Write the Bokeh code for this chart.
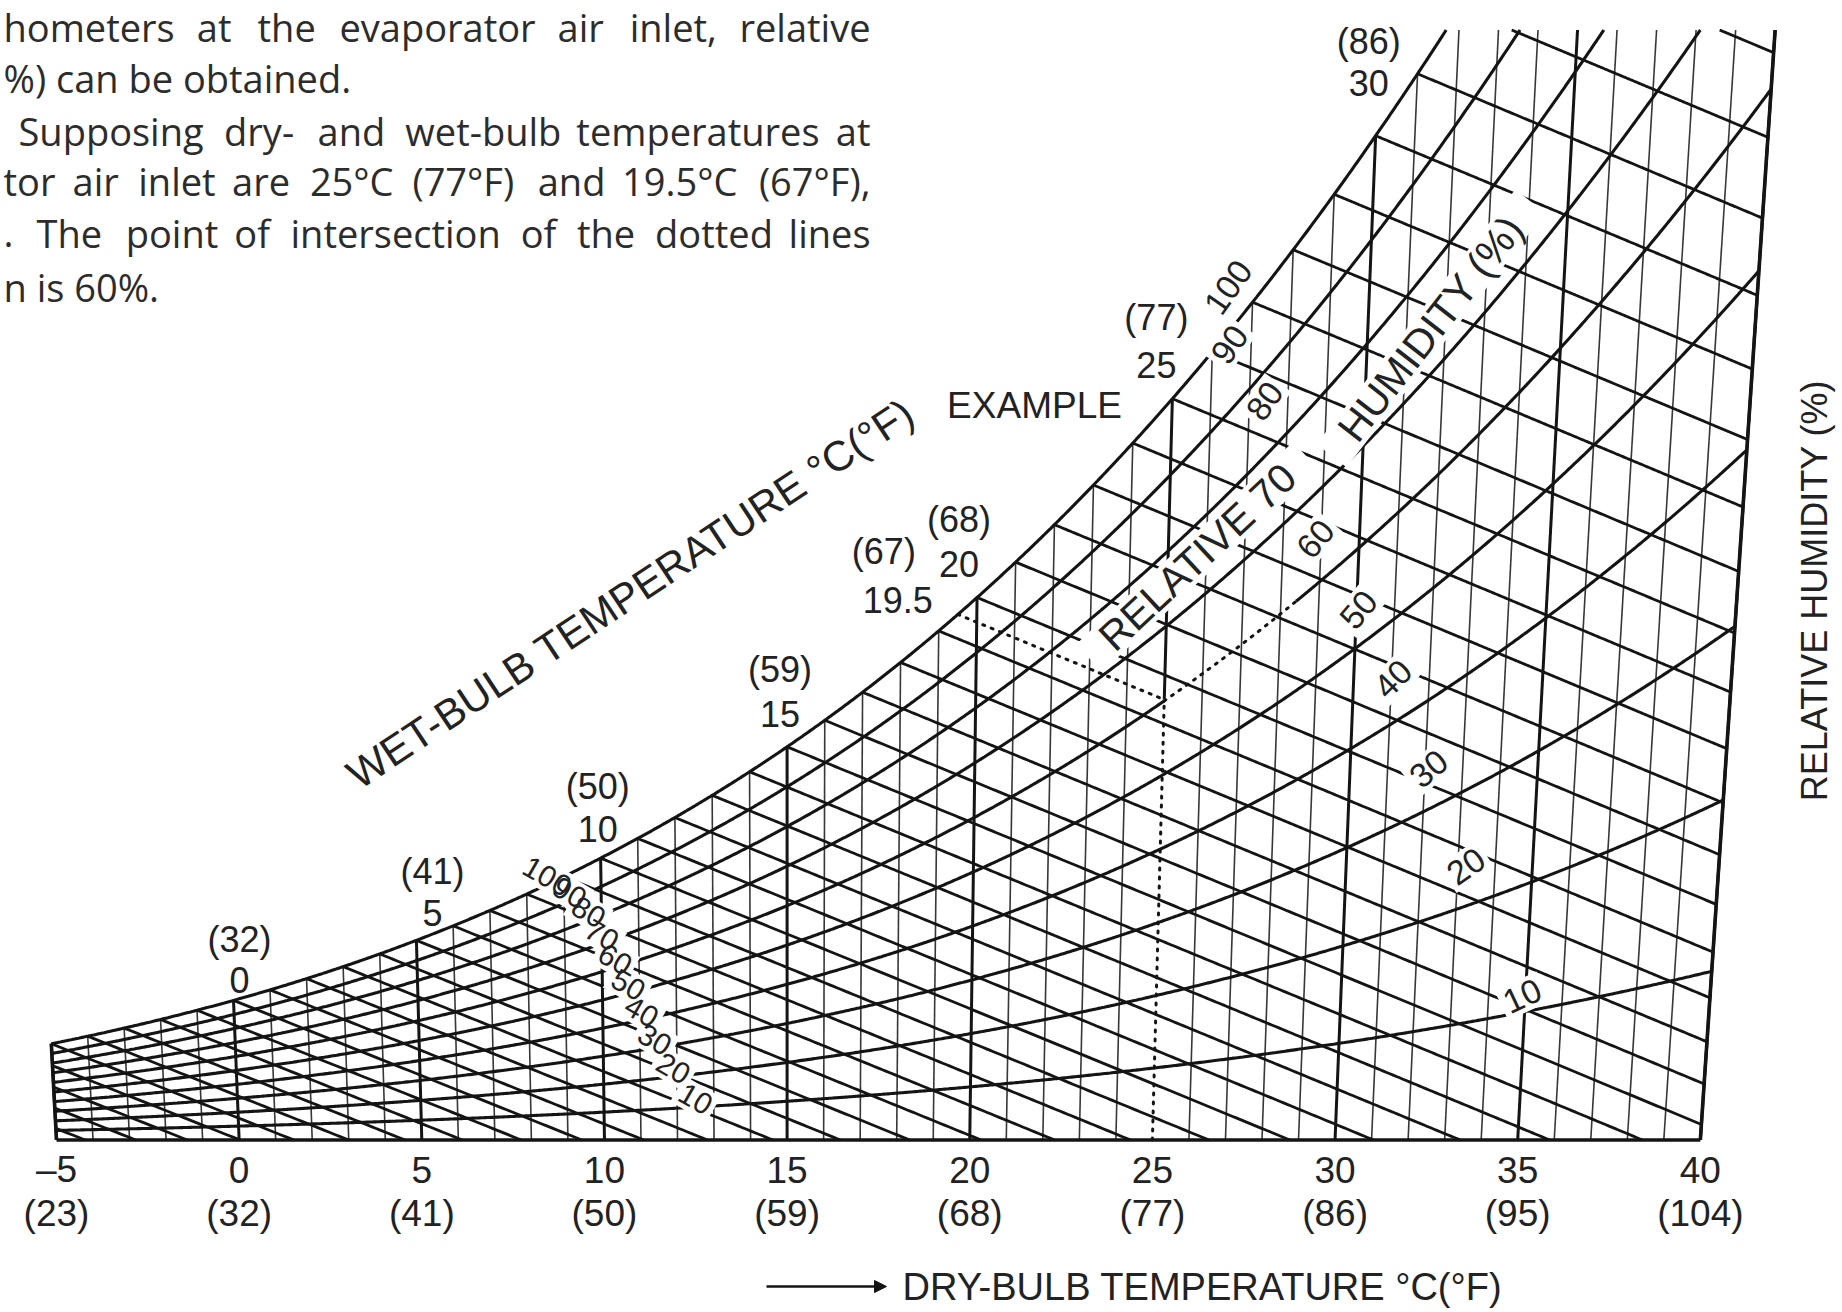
import numpy as np
from bokeh.plotting import figure
from bokeh.models import Range1d, Label, Arrow, NormalHead
from bokeh.core.properties import value
from bokeh.embed import file_html
from bokeh.resources import INLINE

# ---------------- data ----------------
dry_bulb_c = [-5, 0, 5, 10, 15, 20, 25, 30, 35, 40]
dry_bulb_tick_text = ["\u20135", "0", "5", "10", "15", "20", "25", "30", "35", "40"]
dry_bulb_f = ["(23)", "(32)", "(41)", "(50)", "(59)", "(68)", "(77)", "(86)", "(95)", "(104)"]
grid_dry_bulb = list(range(-5, 41))          # a dry-bulb line every 1 degC
grid_wet_bulb = list(range(-9, 35))          # a wet-bulb line every 1 degC
rh_curves = [10, 20, 30, 40, 50, 60, 70, 80, 90, 100]
rh_text = ["10", "20", "30", "40", "50", "60", "70", "80", "90", "100"]
wb_label_c = [0, 5, 10, 15, 20, 25, 30]
wb_label_text = ["0", "5", "10", "15", "20", "25", "30"]
wb_label_f = ["(32)", "(41)", "(50)", "(59)", "(68)", "(77)", "(86)"]
example_db = 25.0
example_wb = 19.5
example_wb_text = ["19.5", "(67)"]
example_rh = 60
w_top = 30.0          # g/kg, top edge of the chart
pressure = 101.325    # kPa

# ---------------- layout (positions / styles) ----------------
W_FIG, H_FIG = 1842, 1312
PXX, PXY = 36.53, 37.0
X0 = -5 - 56 / PXX
X1 = X0 + W_FIG / PXX
Y1 = 1139.5 / PXY
Y0 = Y1 - H_FIG / PXY
SKEW = 0.00273
INK = "#141414"
TXT = "#222222"
FONT = "Liberation Sans"


def page_to_data(px, py):
    return X0 + px / PXX, Y1 - py / PXY


def p_sat(t):
    return 0.61094 * np.exp(17.625 * t / (t + 243.04))


def w_rh(phi, t):
    pv = p_sat(t) * phi / 100.0
    return 622.0 * pv / (pressure - pv)


def w_sat(t):
    return w_rh(100, t)


def w_wb(t, twb):
    ws = w_sat(twb) / 1000.0
    return 1000.0 * ((2501 - 2.326 * twb) * ws - 1.006 * (t - twb)) / (2501 + 1.86 * t - 4.186 * twb)


def sx(t, w):
    return t + SKEW * (t - 15) * w


def clip(t, w):
    t = np.asarray(t, float)
    w = np.asarray(w, float)
    inside = (w >= 0) & (w <= w_top)
    segs, ct, cw = [], [], []
    for i in range(len(t)):
        if inside[i]:
            if not ct and i > 0:
                b = w_top if w[i - 1] > w_top else 0.0
                f = (b - w[i - 1]) / (w[i] - w[i - 1])
                ct.append(t[i - 1] + f * (t[i] - t[i - 1]))
                cw.append(b)
            ct.append(t[i])
            cw.append(w[i])
        elif ct:
            b = w_top if w[i] > w_top else 0.0
            f = (b - w[i - 1]) / (w[i] - w[i - 1])
            ct.append(t[i - 1] + f * (t[i] - t[i - 1]))
            cw.append(b)
            segs.append((ct, cw))
            ct, cw = [], []
    if ct:
        segs.append((ct, cw))
    out = []
    for a, b in segs:
        a = np.array(a)
        b = np.array(b)
        out.append((list(sx(a, b)), list(b)))
    return out


p = figure(width=W_FIG, height=H_FIG, x_range=Range1d(X0, X1), y_range=Range1d(Y0, Y1),
           output_backend="svg", toolbar_location=None, min_border=0,
           x_axis_location=None, y_axis_location=None)
p.xgrid.grid_line_color = None
p.ygrid.grid_line_color = None
p.outline_line_color = None
p.background_fill_color = "white"
p.border_fill_color = "white"

w_int = float(w_wb(example_db, example_wb))

# ---------------- dry-bulb lines ----------------
thin_x, thin_y, thick_x, thick_y = [], [], [], []
for T in grid_dry_bulb:
    top = min(float(w_sat(T)), w_top)
    bottom = w_int if T == example_db else 0.0
    xs = [sx(T, bottom), sx(T, top)]
    ys = [bottom, top]
    if T % 5 == 0:
        thick_x.append(xs)
        thick_y.append(ys)
    else:
        thin_x.append(xs)
        thin_y.append(ys)
p.multi_line(thin_x, thin_y, line_color=INK, line_width=1.6, line_alpha=0.85)
p.multi_line(thick_x, thick_y, line_color=INK, line_width=3.0)
edge_t = [dry_bulb_c[0], dry_bulb_c[-1]]
p.multi_line([[sx(t, 0), sx(t, min(float(w_sat(t)), w_top))] for t in edge_t],
             [[0, min(float(w_sat(t)), w_top)] for t in edge_t], line_color=INK, line_width=3.6)
p.line([sx(edge_t[0], 0), sx(edge_t[1], 0)], [0, 0], line_color=INK, line_width=3.6)

# ---------------- relative-humidity curves ----------------
tt = np.linspace(dry_bulb_c[0], dry_bulb_c[-1], 901)
rh_x, rh_y = [], []
for phi in rh_curves:
    w = w_rh(phi, tt)
    masks = [tt <= example_db, tt >= 28.4] if phi == example_rh else [tt == tt]
    for m in masks:
        for a, b in clip(tt[m], w[m]):
            rh_x.append(a)
            rh_y.append(b)
p.multi_line(rh_x, rh_y, line_color=INK, line_width=3.1)

# ---------------- wet-bulb lines ----------------
wb_x, wb_y = [], []
for twb in grid_wet_bulb:
    t = np.linspace(max(twb, dry_bulb_c[0]), dry_bulb_c[-1], 300)
    for a, b in clip(t, w_wb(t, twb)):
        wb_x.append(a)
        wb_y.append(b)
p.multi_line(wb_x, wb_y, line_color=INK, line_width=2.8)

# ---------------- example (dotted) ----------------
dot = dict(line_color=INK, line_width=3.0, line_dash="2 7", line_cap="round")
te = np.linspace(example_wb, example_db, 50)
for a, b in clip(te, w_wb(te, example_wb)):
    p.line(a, b, **dot)
p.line([sx(example_db, 0), sx(example_db, w_int)], [0, w_int], **dot)
tr = np.linspace(example_db, 28.4, 50)
for a, b in clip(tr, w_rh(example_rh, tr)):
    p.line(a, b, **dot)

# ---------------- boxed labels (white band that breaks the lines) ----------------
box_x, box_y, box_w, box_h, box_a = [], [], [], [], []
boxed = []


def boxed_label(x, y, text, size, angle, char_w=0.56):
    box_x.append(x)
    box_y.append(y)
    box_w.append(len(text) * char_w * size + 8)
    box_h.append(0.78 * size + 6)
    box_a.append(angle)
    boxed.append((x, y, text, size, angle))


low_t = [12.5, 11.9, 11.4, 11.05, 10.7, 10.35, 10.0, 9.65, 9.15, 8.55]   # label spots for 10..100
for phi, txt, t in zip(rh_curves, rh_text, low_t):
    w = float(w_rh(phi, t)) + 8 / PXY
    boxed_label(float(sx(t, w)), w, txt, 30, -30)

up_t = {10: 35.1, 20: 33.3, 30: 32.2, 40: 31.2, 50: 30.2, 60: 28.9, 80: 27.5, 90: 26.6, 100: 26.4}
up_off = {10: (-6, 15), 20: (-1, 39), 30: (-2, 39), 40: (-4, 41), 50: (-4, 33), 60: (0, 46),
          80: (-2, 53), 90: (-4, 62), 100: (0, 45)}
up_ang = {10: 25, 20: 35, 30: 40, 40: 45, 50: 50, 60: 50, 80: 55, 90: 55, 100: 55}
for phi, txt in zip(rh_curves, rh_text):
    if phi not in up_t:
        continue
    t = up_t[phi]
    w = float(w_rh(phi, t))
    dx, dy = up_off[phi]
    boxed_label(float(sx(t, w)) + dx / PXX, w + dy / PXY, txt, 34, up_ang[phi])

for t, txt, (dx, dy), ang in [(25.6, "RELATIVE 70", (8, 50), 43), (32.0, "HUMIDITY (%)", (-13, 31), 52)]:
    w = float(w_rh(70, t))
    boxed_label(float(sx(t, w)) + dx / PXX, w + dy / PXY, txt, 41, ang, char_w=0.64)

p.rect(box_x, box_y, width=box_w, height=box_h, width_units="screen", height_units="screen",
       angle=box_a, angle_units="deg", fill_color="white", line_color=None)
for x, y, text, size, angle in boxed:
    p.add_layout(Label(x=x, y=y, text=text, text_font=FONT, text_font_size=f"{size}px",
                       text_align="center", text_baseline="middle", angle=angle,
                       angle_units="deg", text_color=TXT))

# ---------------- wet-bulb labels ----------------
wb_off = [(6, 20, 61), (16, 27, 69), (-3, 29, 72), (-7, 33, 77), (-18, 34, 78), (-16, 34, 81), (-7, 53, 94)]
nx, ny, fx, fy = [], [], [], []
for t, (dx, dn, df) in zip(wb_label_c, wb_off):
    ws = float(w_sat(t))
    x = float(sx(t, ws)) + dx / PXX
    nx.append(x)
    ny.append(ws + dn / PXY)
    fx.append(x)
    fy.append(ws + df / PXY)
wtxt = dict(text_font=value(FONT), text_font_size="36px", text_align="center",
            text_baseline="middle", text_color=TXT)
p.text(nx, ny, text=wb_label_text, **wtxt)
p.text(fx, fy, text=wb_label_f, **wtxt)
ws_e = float(w_sat(example_wb))
xe = float(sx(example_wb, ws_e))
p.text([xe - 60 / PXX, xe - 74 / PXX], [ws_e + 14 / PXY, ws_e + 63 / PXY], text=example_wb_text, **wtxt)

# ---------------- dry-bulb tick labels ----------------
yn = page_to_data(0, 1169)[1]
yf = page_to_data(0, 1213)[1]
ttxt = dict(text_font=value(FONT), text_font_size="37px", text_align="center",
            text_baseline="middle", text_color=TXT)
p.text(dry_bulb_c, [yn] * len(dry_bulb_c), text=dry_bulb_tick_text, **ttxt)
p.text(dry_bulb_c, [yf] * len(dry_bulb_c), text=dry_bulb_f, **ttxt)


def add_label(px, py, text, size, angle=0.0, align="center", font=FONT, color=TXT):
    x, y = page_to_data(px, py)
    p.add_layout(Label(x=x, y=y, text=text, text_font=font, text_font_size=size,
                       text_align=align, text_baseline="middle", angle=angle,
                       angle_units="deg", text_color=color))


# ---------------- titles ----------------
add_label(630, 593, "WET-BULB TEMPERATURE \u00b0C(\u00b0F)", "42px", angle=33.5)
add_label(1034, 405, "EXAMPLE", "37px")
add_label(1814, 590, "RELATIVE HUMIDITY (%)", "36px", angle=90)
add_label(902, 1286, "DRY-BULB TEMPERATURE \u00b0C(\u00b0F)", "38px", align="left")
xa, ya = page_to_data(766, 1286)
xb, _ = page_to_data(886, 1286)
p.add_layout(Arrow(end=NormalHead(size=12, fill_color=INK, line_color=INK), x_start=xa, y_start=ya,
                   x_end=xb, y_end=ya, line_color=INK, line_width=2.5))

# ---------------- paragraph text (page body, justified) ----------------
NARROW = {"i": .24, "l": .24, "j": .24, "t": .33, "f": .31, "r": .39, ".": .26, ",": .26, " ": .26,
          "-": .32, "(": .30, ")": .30, "m": .86, "w": .74, "\u00b0": .42, "%": .83}


def est_w(s, size):
    tot = 0.0
    for ch in s:
        if ch in NARROW:
            tot += NARROW[ch]
        elif ch.isupper():
            tot += 0.62
        else:
            tot += 0.56
    return tot * size


PARA_SIZE = 38
para = [
    ("hometers at the evaporator air inlet, relative", 3, 870, 26, True),
    ("%) can be obtained.", 3, None, 77, False),
    ("Supposing dry- and wet-bulb temperatures at", 18, 870, 130, True),
    ("tor air inlet are 25\u00b0C (77\u00b0F) and 19.5\u00b0C (67\u00b0F),", 3, 870, 180, True),
    (". The point of intersection of the dotted lines", 3, 870, 232, True),
    ("n is 60%.", 3, None, 286, False),
]
for txt, left, right, py, just in para:
    if not just:
        add_label(left, py, txt, f"{PARA_SIZE}px", align="left", font="Open Sans", color="#2c2c2c")
        continue
    words = txt.split(" ")
    ws_ = [est_w(wd, PARA_SIZE) for wd in words]
    gap = (right - left - sum(ws_)) / (len(words) - 1)
    xpos = left
    for i, wd in enumerate(words):
        if i == len(words) - 1:
            add_label(right, py, wd, f"{PARA_SIZE}px", align="right", font="Open Sans", color="#2c2c2c")
        else:
            add_label(xpos, py, wd, f"{PARA_SIZE}px", align="left", font="Open Sans", color="#2c2c2c")
        xpos += ws_[i] + gap

open("out.html", "w").write(file_html(p, INLINE))
